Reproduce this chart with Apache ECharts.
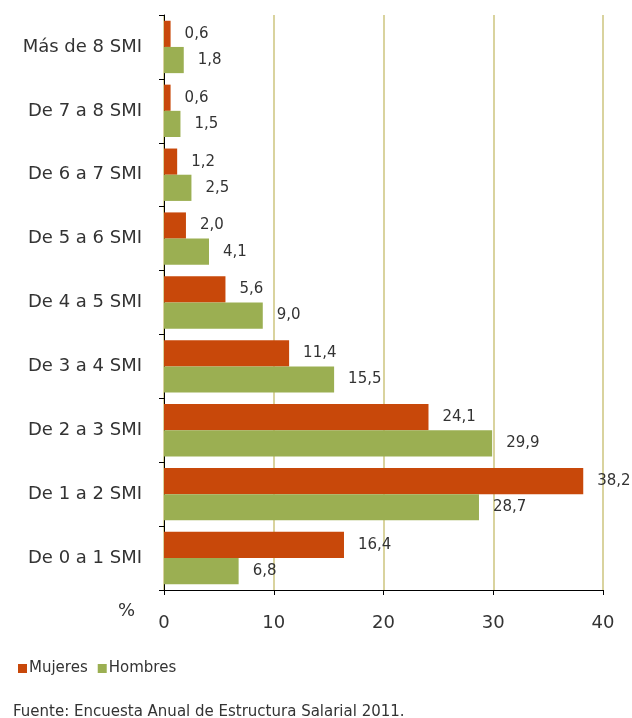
<!DOCTYPE html>
<html><head><meta charset="utf-8">
<script src="https://cdn.jsdelivr.net/npm/echarts@6/dist/echarts.min.js"></script>
<style>html,body{margin:0;padding:0;background:#fff}#c{width:632px;height:718px}</style>
</head><body><div id="c"></div>
<script>
const categories = ['De 0 a 1 SMI','De 1 a 2 SMI','De 2 a 3 SMI','De 3 a 4 SMI','De 4 a 5 SMI','De 5 a 6 SMI','De 6 a 7 SMI','De 7 a 8 SMI','Más de 8 SMI'];
const mujeres = [16.4, 38.2, 24.1, 11.4, 5.6, 2.0, 1.2, 0.6, 0.6];
const hombres = [6.8, 28.7, 29.9, 15.5, 9.0, 4.1, 2.5, 1.5, 1.8];
const xTicks = [0, 10, 20, 30, 40];
const FONT = 'DejaVu Sans, Arial, sans-serif';
const fmt = p => p.value.toFixed(1).replace('.', ',');
const chart = echarts.init(document.getElementById('c'));
chart.setOption({
  animation: false,
  textStyle: { fontFamily: FONT },
  grid: { left: 164, right: 29, top: 15, bottom: 128 },
  legend: {
    left: 13, top: 656, icon: 'rect', itemWidth: 9, itemHeight: 9, itemGap: 10,
    textStyle: { fontSize: 15, color: '#333', fontFamily: FONT, padding: [0, 0, 0, -3] },
    data: ['Mujeres', 'Hombres']
  },
  xAxis: {
    type: 'value', min: xTicks[0], max: xTicks[xTicks.length - 1], interval: 10,
    axisLine: { show: true, lineStyle: { color: '#000', width: 1 } },
    axisTick: { show: true, length: 5, lineStyle: { color: '#000' } },
    axisLabel: { fontSize: 18, color: '#333', margin: 24, fontFamily: FONT },
    splitLine: { show: true, lineStyle: { color: '#D9D39E', width: 2 } }
  },
  yAxis: {
    type: 'category', data: categories,
    axisLine: { show: true, lineStyle: { color: '#000', width: 1 } },
    axisTick: { show: true, length: 5, lineStyle: { color: '#000' } },
    axisLabel: { fontSize: 18, color: '#333', margin: 22, fontFamily: FONT },
    splitLine: { show: false }
  },
  series: [
    { name: 'Mujeres', type: 'bar', data: mujeres, barGap: '0%', barCategoryGap: '18%',
      itemStyle: { color: '#C8480A' },
      label: { show: true, position: 'right', distance: 14, formatter: fmt, fontSize: 15, color: '#333', fontFamily: FONT } },
    { name: 'Hombres', type: 'bar', data: hombres, barGap: '0%', barCategoryGap: '18%',
      itemStyle: { color: '#9BAF52' },
      label: { show: true, position: 'right', distance: 14, formatter: fmt, fontSize: 15, color: '#333', fontFamily: FONT } }
  ],
  graphic: [
    { type: 'text', left: 118, top: 602, style: { text: '%', fontSize: 18, fill: '#333', fontFamily: FONT } },
    { type: 'text', left: 13, top: 705, style: { text: 'Fuente: Encuesta Anual de Estructura Salarial 2011.', fontSize: 15, fill: '#333', fontFamily: FONT } }
  ]
});
</script></body></html>
